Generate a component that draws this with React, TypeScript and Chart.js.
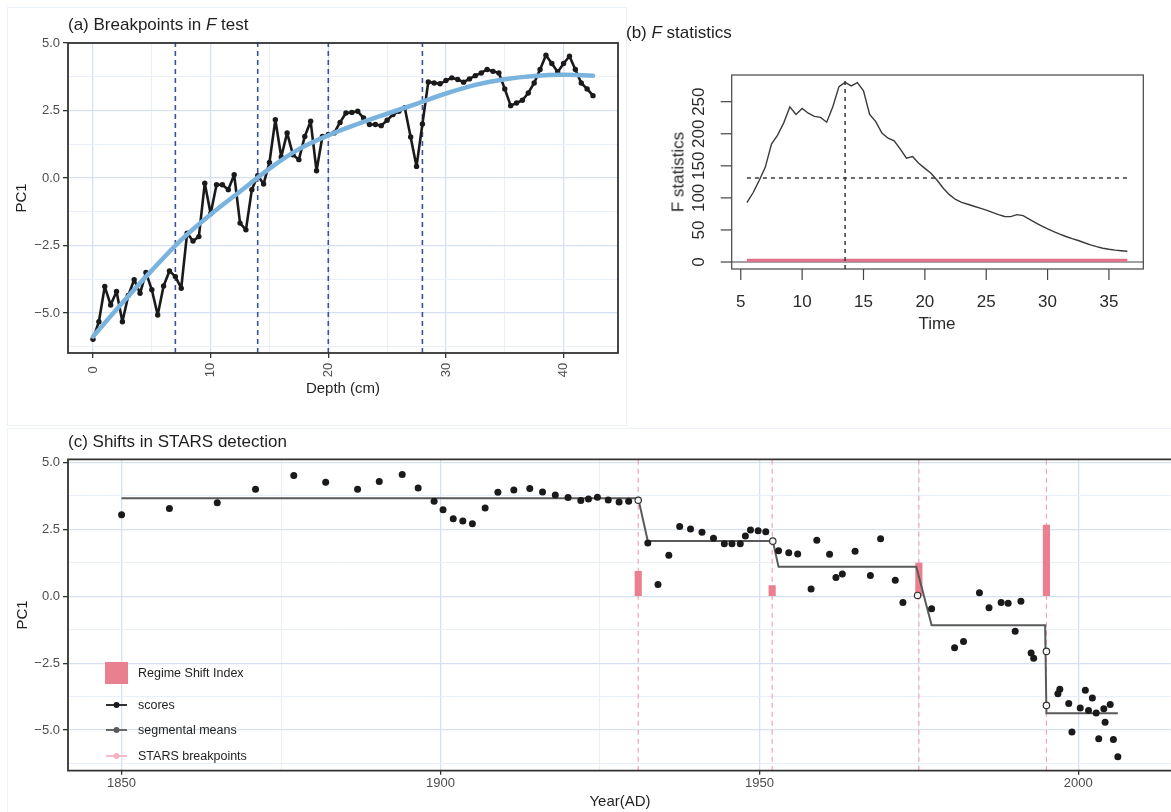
import React, { useEffect, useRef } from 'react';
import { Chart, registerables } from 'chart.js';
Chart.register(...registerables);

const FONT = "'Liberation Sans', Arial, Helvetica, sans-serif";
Chart.defaults.font.family = FONT;

// ---------- Panel (a): Breakpoints in F test ----------
const depthCm = [0, 0.5, 1, 1.5, 2, 2.5, 3, 3.5, 4, 4.5, 5, 5.5, 6, 6.5, 7, 7.5, 8, 8.5, 9, 9.5, 10, 10.5, 11, 11.5, 12, 12.5, 13, 13.5, 14, 14.5, 15, 15.5, 16, 16.5, 17, 17.5, 18, 18.5, 19, 19.5, 20, 20.5, 21, 21.5, 22, 22.5, 23, 23.5, 24, 24.5, 25, 25.5, 26, 26.5, 27, 27.5, 28, 28.5, 29, 29.5, 30, 30.5, 31, 31.5, 32, 32.5, 33, 33.5, 34, 34.5, 35, 35.5, 36, 36.5, 37, 37.5, 38, 38.5, 39, 39.5, 40, 40.5, 41, 41.5, 42, 42.5];
const depthPC1 = [-5.97, -5.32, -4.02, -4.70, -4.20, -5.32, -4.35, -3.77, -4.27, -3.50, -4.14, -5.07, -4.00, -3.44, -3.65, -4.08, -2.04, -2.33, -2.17, -0.19, -1.32, -0.25, -0.25, -0.43, 0.12, -1.67, -1.92, -0.43, 0.09, -0.22, 0.58, 2.16, 0.78, 1.67, 0.86, 0.68, 1.54, 2.10, 0.27, 1.54, 1.61, 1.67, 2.06, 2.41, 2.43, 2.47, 2.22, 1.98, 1.98, 1.94, 2.14, 2.35, 2.47, 2.60, 1.52, 0.43, 2.00, 3.56, 3.52, 3.49, 3.61, 3.71, 3.65, 3.55, 3.67, 3.79, 3.89, 4.02, 3.95, 3.89, 3.30, 2.68, 2.78, 2.88, 3.15, 3.52, 4.02, 4.55, 4.24, 3.93, 4.24, 4.51, 4.02, 3.52, 3.30, 3.05];
const smoothDepth = [0, 2.5, 5, 7.5, 10, 12.5, 15, 17.5, 20, 22.5, 25, 27.5, 30, 32.5, 35, 37.5, 40, 42.5];
const smoothPC1 = [-5.87, -4.62, -3.42, -2.29, -1.35, -0.5, 0.35, 1.07, 1.58, 2.0, 2.38, 2.75, 3.13, 3.45, 3.66, 3.78, 3.82, 3.79];
const fBreakDepths = [7, 14, 20, 28];
const depthTicks = [0, 5, 10, 15, 20, 25, 30, 35, 40];
const depthMajor = [0, 10, 20, 30, 40];
const pcTicks = [-6.25, -5, -3.75, -2.5, -1.25, 0, 1.25, 2.5, 3.75, 5];
const pcMajor = [-5, -2.5, 0, 2.5, 5];
const depthRange = [-2.125, 44.625];
const pcRangeA = [-6.48, 5.0];

// ---------- Panel (b): F statistics ----------
const fTime = [5.5, 6, 6.5, 7, 7.5, 8, 8.5, 9, 9.5, 10, 10.5, 11, 11.5, 12, 12.5, 13, 13.5, 14, 14.5, 15, 15.5, 16, 16.5, 17, 17.5, 18, 18.5, 19, 19.5, 20, 20.5, 21, 21.5, 22, 22.5, 23, 23.5, 24, 24.5, 25, 25.5, 26, 26.5, 27, 27.5, 28, 28.5, 29, 29.5, 30, 30.5, 31, 31.5, 32, 32.5, 33, 33.5, 34, 34.5, 35, 35.5, 36, 36.5];
const fStat = [92.5, 108, 127, 148, 184, 198, 217, 242, 230, 239.5, 232, 227, 225.5, 218, 242, 273.5, 280, 274.5, 279.7, 267, 230, 219, 201, 193, 189, 176, 162, 164.5, 154, 146, 138.3, 127.5, 115, 105, 97.5, 93, 90, 87, 84, 81, 77.5, 74, 71, 70.7, 73.8, 72.3, 67, 61.5, 56.5, 51.5, 47.5, 43.5, 39.8, 36.5, 33.5, 30, 26.8, 24, 21.5, 19.8, 18.5, 17.5, 16.7];
const fCritical = 131;
const fBreakTime = 13.5;
const fPvalueLevel = 2.6;
const fTicksX = [5, 10, 15, 20, 25, 30, 35];
const fTicksY = [0, 50, 100, 150, 200, 250];
const timeRange = [4.26, 37.8];
const fRange = [-10.9, 291.6];

// ---------- Panel (c): Shifts in STARS detection ----------
const scoreYears = [1850, 1857.5, 1865, 1871, 1877, 1882, 1887, 1890.4, 1894, 1896.5, 1899, 1900.4, 1902, 1903.5, 1905, 1907, 1909, 1911.5, 1914, 1916, 1918, 1920, 1922, 1923.2, 1924.6, 1926.3, 1928, 1929.5, 1932.5, 1934.1, 1935.8, 1937.5, 1939.2, 1941, 1942.8, 1944.5, 1945.7, 1947, 1947.8, 1948.6, 1949.8, 1951, 1953, 1954.6, 1956, 1958.1, 1959, 1961, 1962, 1963, 1965, 1967.4, 1969, 1971.3, 1972.5, 1977, 1980.6, 1982, 1984.5, 1986, 1987.9, 1989, 1990.1, 1991, 1992.6, 1993, 1996.8, 1997.1, 1998.5, 1999, 2000.3, 2001.1, 2001.6, 2002.2, 2002.8, 2003.2, 2004, 2004.2, 2005, 2005.5, 2006.2];
const scoreValues = [3.05, 3.28, 3.50, 4.00, 4.51, 4.26, 4.00, 4.29, 4.55, 4.05, 3.55, 3.23, 2.90, 2.81, 2.71, 3.30, 3.89, 3.97, 4.03, 3.90, 3.79, 3.69, 3.58, 3.64, 3.70, 3.60, 3.52, 3.55, 1.99, 0.44, 1.53, 2.61, 2.51, 2.39, 2.17, 1.96, 1.96, 1.96, 2.25, 2.48, 2.45, 2.41, 1.70, 1.63, 1.58, 0.27, 2.09, 1.57, 0.70, 0.83, 1.68, 0.78, 2.15, 0.60, -0.23, -0.47, -1.92, -1.69, 0.13, -0.43, -0.23, -0.26, -1.31, -0.19, -2.12, -2.32, -3.64, -3.48, -4.01, -5.07, -4.18, -3.51, -4.27, -3.80, -4.36, -5.33, -4.20, -4.71, -4.05, -5.35, -6.00];
const breakPointYears = [1931, 1952.1, 1974.8, 1995, 1995];
const breakPointValues = [3.59, 2.06, 0.03, -2.06, -4.08];
const meanYears = [1850, 1931, 1932.5, 1952.1, 1953, 1974.6, 1977, 1994.8, 1995, 2006.2];
const meanValues = [3.66, 3.66, 2.07, 2.07, 1.10, 1.10, -1.08, -1.08, -4.37, -4.37];
const rsiYears = [1931, 1952, 1975, 1995];
const rsiValues = [0.93, 0.40, 1.24, 2.66];
const starsBreakYears = [1931, 1952, 1975, 1995];
const yearTicks = [1850, 1875, 1900, 1925, 1950, 1975, 2000];
const yearMajor = [1850, 1900, 1950, 2000];
const yearRange = [1841.6, 2014.5];
const pcRangeC = [-6.52, 5.12];

const GRID_MAJOR = '#d5e1f2';
const GRID_MINOR = '#e9eff8';
const fmt = (v: number) => v.toFixed(1).replace('-', '\u2212');

const gridOpts = (major: number[]) => ({
  color: (c: any) => (c.tick && major.includes(c.tick.value) ? GRID_MAJOR : GRID_MINOR),
  lineWidth: (c: any) => (c.tick && major.includes(c.tick.value) ? 1.3 : 1),
  tickColor: (c: any) => (c.tick && major.includes(c.tick.value) ? '#333333' : 'rgba(0,0,0,0)'),
  tickLength: 5,
  tickWidth: 1.3,
});

const fixW = (w: number) => (ax: any) => {
  ax.width = w;
  ax.paddingTop = 0;
  ax.paddingBottom = 0;
};
const fixH = (h: number) => (ax: any) => {
  ax.height = h;
  ax.paddingLeft = 0;
  ax.paddingRight = 0;
};

const frameA = {
  id: 'frameA',
  afterDatasetsDraw(chart: any) {
    const { ctx, chartArea: a, scales } = chart;
    ctx.save();
    ctx.strokeStyle = '#333333';
    ctx.lineWidth = 1.8;
    ctx.strokeRect(a.left, a.top, a.right - a.left, a.bottom - a.top);
    ctx.fillStyle = '#4d4d4d';
    ctx.font = `13px ${FONT}`;
    depthMajor.forEach((v) => {
      const px = scales.x.getPixelForValue(v);
      ctx.save();
      ctx.translate(px, 370);
      ctx.rotate(-Math.PI / 2);
      ctx.textAlign = 'center';
      ctx.textBaseline = 'middle';
      ctx.fillText(String(v), 0, 0);
      ctx.restore();
    });
    ctx.restore();
  },
};

const frameB = {
  id: 'frameB',
  afterDraw(chart: any) {
    const { ctx, chartArea: a, scales } = chart;
    ctx.save();
    ctx.strokeStyle = '#444444';
    ctx.lineWidth = 1.2;
    ctx.strokeRect(a.left, a.top, a.right - a.left, a.bottom - a.top);
    ctx.fillStyle = '#2a2a2a';
    ctx.font = `17px ${FONT}`;
    fTicksY.forEach((v) => {
      const py = scales.y.getPixelForValue(v);
      ctx.beginPath();
      ctx.moveTo(a.left - 11, py);
      ctx.lineTo(a.left, py);
      ctx.stroke();
      ctx.save();
      ctx.translate(69, py);
      ctx.rotate(-Math.PI / 2);
      ctx.textAlign = 'center';
      ctx.textBaseline = 'middle';
      ctx.fillText(String(v), 0, 0);
      ctx.restore();
    });
    fTicksX.forEach((v) => {
      const px = scales.x.getPixelForValue(v);
      ctx.beginPath();
      ctx.moveTo(px, a.bottom);
      ctx.lineTo(px, a.bottom + 11);
      ctx.stroke();
      ctx.textAlign = 'center';
      ctx.textBaseline = 'middle';
      ctx.fillText(String(v), px, 302);
    });
    ctx.restore();
  },
};

const frameC = {
  id: 'frameC',
  afterDraw(chart: any) {
    const { ctx, chartArea: a } = chart;
    ctx.save();
    ctx.strokeStyle = '#333333';
    ctx.lineWidth = 1.8;
    ctx.beginPath();
    ctx.moveTo(chart.width + 2, a.top);
    ctx.lineTo(a.left, a.top);
    ctx.lineTo(a.left, a.bottom);
    ctx.lineTo(chart.width + 2, a.bottom);
    ctx.stroke();
    // legend keys
    ctx.fillStyle = '#e97f8f';
    ctx.fillRect(105, 237, 23, 22);
    const keys = [
      { y: 280, c: '#1a1a1a' },
      { y: 305, c: '#5a5a5a' },
      { y: 331, c: '#f2b3c3' },
    ];
    keys.forEach((k) => {
      ctx.strokeStyle = k.c;
      ctx.lineWidth = 1.8;
      ctx.beginPath();
      ctx.moveTo(106, k.y);
      ctx.lineTo(127, k.y);
      ctx.stroke();
      ctx.fillStyle = k.c;
      ctx.beginPath();
      ctx.arc(116.5, k.y, 3, 0, Math.PI * 2);
      ctx.fill();
    });
    ctx.restore();
  },
};

const vline = (x: number, y0: number, y1: number) => [
  { x, y: y0 },
  { x, y: y1 },
];
const xy = (xs: number[], ys: number[]) => xs.map((x, i) => ({ x, y: ys[i] }));

export default function App() {
  const refA = useRef<HTMLCanvasElement>(null);
  const refB = useRef<HTMLCanvasElement>(null);
  const refC = useRef<HTMLCanvasElement>(null);

  useEffect(() => {
    const charts: Chart[] = [];

    // ---- Panel A ----
    charts.push(
      new Chart(refA.current as HTMLCanvasElement, {
        type: 'line',
        data: {
          datasets: [
            {
              data: xy(smoothDepth, smoothPC1),
              borderColor: '#7ab3de',
              borderWidth: 4.5,
              pointRadius: 0,
              borderCapStyle: 'round',
              cubicInterpolationMode: 'monotone',
              order: 0,
            } as any,
            {
              data: xy(depthCm, depthPC1),
              borderColor: '#1a1a1a',
              backgroundColor: '#1a1a1a',
              borderWidth: 2.6,
              borderJoinStyle: 'round',
              pointRadius: 2.7,
              pointBorderWidth: 0,
              order: 1,
            } as any,
            ...fBreakDepths.map((d) => ({
              data: vline(d, pcRangeA[0], pcRangeA[1]),
              borderColor: '#3f4f9f',
              borderWidth: 1.6,
              borderDash: [5, 4],
              pointRadius: 0,
              order: 2,
            })),
          ],
        },
        options: {
          animation: false,
          responsive: false,
          events: [],
          layout: { padding: { left: 0, top: 43, right: 12, bottom: 0 } },
          plugins: { legend: { display: false }, tooltip: { enabled: false } },
          scales: {
            x: {
              type: 'linear',
              min: depthRange[0],
              max: depthRange[1],
              afterBuildTicks: (ax: any) => {
                ax.ticks = depthTicks.map((v) => ({ value: v }));
              },
              afterFit: fixH(72),
              ticks: { display: false },
              grid: gridOpts(depthMajor) as any,
              border: { display: false },
            },
            y: {
              type: 'linear',
              min: pcRangeA[0],
              max: pcRangeA[1],
              afterBuildTicks: (ax: any) => {
                ax.ticks = pcTicks.map((v) => ({ value: v }));
              },
              afterFit: fixW(68),
              ticks: {
                autoSkip: false,
                padding: 3,
                color: '#4d4d4d',
                font: { size: 13 },
                callback: (v: any) => (pcMajor.includes(v) ? fmt(v) : ''),
              },
              grid: gridOpts(pcMajor) as any,
              border: { display: false },
            },
          },
        },
        plugins: [frameA],
      })
    );

    // ---- Panel B ----
    charts.push(
      new Chart(refB.current as HTMLCanvasElement, {
        type: 'line',
        data: {
          datasets: [
            {
              data: xy(fTime, fStat),
              borderColor: '#3a3a3a',
              borderWidth: 1.4,
              pointRadius: 0,
              tension: 0,
              order: 0,
            },
            {
              data: [
                { x: fTime[0], y: fCritical },
                { x: fTime[fTime.length - 1], y: fCritical },
              ],
              borderColor: '#2a2a2a',
              borderWidth: 1.4,
              borderDash: [4, 4],
              pointRadius: 0,
              order: 1,
            },
            {
              data: vline(fBreakTime, fRange[0], 285),
              borderColor: '#2a2a2a',
              borderWidth: 1.4,
              borderDash: [4, 4],
              pointRadius: 0,
              order: 1,
            },
            {
              data: [
                { x: fTime[0], y: fPvalueLevel },
                { x: fTime[fTime.length - 1], y: fPvalueLevel },
              ],
              borderColor: '#e46f8c',
              borderWidth: 3,
              pointRadius: 0,
              order: 2,
            },
            {
              data: [
                { x: timeRange[0], y: 0 },
                { x: timeRange[1], y: 0 },
              ],
              borderColor: '#444444',
              borderWidth: 1.2,
              pointRadius: 0,
              order: 3,
            },
          ],
        },
        options: {
          animation: false,
          responsive: false,
          events: [],
          layout: { padding: { left: 0, top: 75, right: 27.7, bottom: 0 } },
          plugins: { legend: { display: false }, tooltip: { enabled: false } },
          scales: {
            x: {
              type: 'linear',
              min: timeRange[0],
              max: timeRange[1],
              afterFit: fixH(156),
              ticks: { display: false },
              grid: { display: false },
              border: { display: false },
            },
            y: {
              type: 'linear',
              min: fRange[0],
              max: fRange[1],
              afterFit: fixW(101.7),
              ticks: { display: false },
              grid: { display: false },
              border: { display: false },
            },
          },
        },
        plugins: [frameB],
      })
    );

    // ---- Panel C ----
    charts.push(
      new Chart(refC.current as HTMLCanvasElement, {
        type: 'line',
        data: {
          datasets: [
            {
              data: xy(breakPointYears, breakPointValues),
              showLine: false,
              pointRadius: 3.2,
              pointBackgroundColor: '#f4f4f4',
              pointBorderColor: '#333333',
              pointBorderWidth: 1.2,
              order: 0,
            },
            {
              data: xy(scoreYears, scoreValues),
              showLine: false,
              pointRadius: 3.5,
              pointBackgroundColor: '#1a1a1a',
              pointBorderWidth: 0,
              order: 1,
            },
            {
              data: xy(meanYears, meanValues),
              borderColor: '#5a5a5a',
              borderWidth: 2,
              pointRadius: 0,
              order: 2,
            },
            {
              type: 'bar',
              data: xy(rsiYears, rsiValues),
              backgroundColor: '#ea7f8f',
              barThickness: 6.5,
              grouped: false,
              order: 3,
            } as any,
            ...starsBreakYears.map((yr) => ({
              data: vline(yr, pcRangeC[0], pcRangeC[1]),
              borderColor: '#f3a3b4',
              borderWidth: 1.2,
              borderDash: [5, 4],
              pointRadius: 0,
              order: 4,
            })),
          ],
        },
        options: {
          animation: false,
          responsive: false,
          events: [],
          layout: { padding: { left: 0, top: 34.3, right: 0, bottom: 0 } },
          plugins: { legend: { display: false }, tooltip: { enabled: false } },
          scales: {
            x: {
              type: 'linear',
              min: yearRange[0],
              max: yearRange[1],
              offset: false,
              afterBuildTicks: (ax: any) => {
                ax.ticks = yearTicks.map((v) => ({ value: v }));
              },
              afterFit: fixH(41.3),
              ticks: {
                autoSkip: false,
                maxRotation: 0,
                minRotation: 0,
                padding: 1,
                color: '#4d4d4d',
                font: { size: 13 },
                callback: (v: any) => (yearMajor.includes(v) ? String(v) : ''),
              },
              grid: { ...(gridOpts(yearMajor) as any), offset: false, tickLength: 4 },
              border: { display: false },
            },
            y: {
              type: 'linear',
              min: pcRangeC[0],
              max: pcRangeC[1],
              afterBuildTicks: (ax: any) => {
                ax.ticks = pcTicks.map((v) => ({ value: v }));
              },
              afterFit: fixW(68),
              ticks: {
                autoSkip: false,
                padding: 3,
                color: '#4d4d4d',
                font: { size: 13 },
                callback: (v: any) => (pcMajor.includes(v) ? fmt(v) : ''),
              },
              grid: gridOpts(pcMajor) as any,
              border: { display: false },
            },
          },
        },
        plugins: [frameC],
      })
    );

    return () => charts.forEach((c) => c.destroy());
  }, []);

  const base: React.CSSProperties = {
    position: 'absolute',
    fontFamily: FONT,
    whiteSpace: 'nowrap',
    lineHeight: 1,
    color: '#1f1f1f',
  };
  const center = (x: number, y: number, size: number, rot = false, extra: React.CSSProperties = {}): React.CSSProperties => ({
    ...base,
    left: x,
    top: y,
    fontSize: size,
    transform: rot ? 'translate(-50%, -50%) rotate(-90deg)' : 'translate(-50%, -50%)',
    ...extra,
  });
  const leftMid = (x: number, y: number, size: number, extra: React.CSSProperties = {}): React.CSSProperties => ({
    ...base,
    left: x,
    top: y,
    fontSize: size,
    transform: 'translateY(-50%)',
    ...extra,
  });

  return (
    <div style={{ position: 'absolute', left: 0, top: 0, width: 1171, height: 812, background: '#ffffff', overflow: 'hidden' }}>
      <div style={{ position: 'absolute', left: 7, top: 7, width: 618, height: 417, border: '1px solid #eaf0f8' }} />
      <div style={{ position: 'absolute', left: 7, top: 428, width: 1200, height: 400, border: '1px solid #eef2f9' }} />
      <canvas ref={refA} width={630} height={425} style={{ position: 'absolute', left: 0, top: 0, width: 630, height: 425 }} />
      <canvas ref={refB} width={541} height={425} style={{ position: 'absolute', left: 630, top: 0, width: 541, height: 425 }} />
      <canvas ref={refC} width={1176} height={387} style={{ position: 'absolute', left: 0, top: 425, width: 1176, height: 387 }} />

      <div style={leftMid(68, 24, 17)}>
        (a) Breakpoints in <i>F</i> test
      </div>
      <div style={center(20, 198, 15, true)}>PC1</div>
      <div style={center(343, 387, 15)}>Depth (cm)</div>

      <div style={leftMid(626, 32, 17)}>
        (b) <i>F</i> statistics
      </div>
      <div style={center(678, 172, 17, true, { color: '#2a2a2a' })}>F statistics</div>
      <div style={center(937, 323, 17, false, { color: '#2a2a2a' })}>Time</div>

      <div style={leftMid(68, 441, 17)}>(c) Shifts in STARS detection</div>
      <div style={center(21, 615, 15, true)}>PC1</div>
      <div style={center(620, 800, 15)}>Year(AD)</div>

      <div style={leftMid(138, 673, 12.5)}>Regime Shift Index</div>
      <div style={leftMid(138, 705, 12.5)}>scores</div>
      <div style={leftMid(138, 730, 12.5)}>segmental means</div>
      <div style={leftMid(138, 756, 12.5)}>STARS breakpoints</div>
    </div>
  );
}
